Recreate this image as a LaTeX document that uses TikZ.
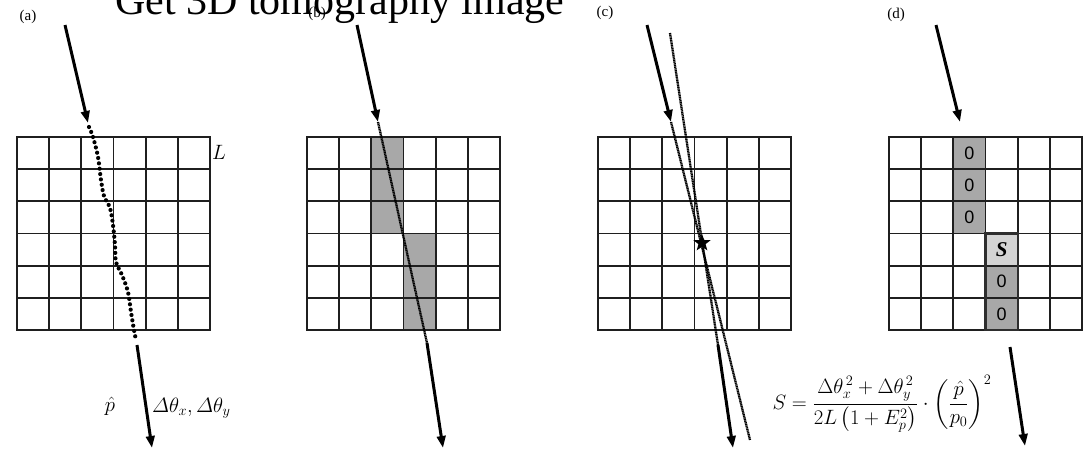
\documentclass[tikz,border=0pt]{standalone}
\usepackage{amsmath}
\usepackage{fontspec}
\setmainfont{Liberation Serif}
\newfontfamily\arialf{Liberation Sans}
\usetikzlibrary{arrows.meta,shapes.geometric}
\newcommand\drawpanelgrid[1]{%
  \foreach \i in {0,...,6}{%
    \draw[gridln] ({#1+\i*32.1667},137) -- ({#1+\i*32.1667},330);
    \draw[gridln] ({#1-0.9},{137+\i*32.1667}) -- ({#1+193.9},{137+\i*32.1667});
  }}
\begin{document}
\begin{tikzpicture}[x=1pt,y=-1pt,
  gridln/.style={line width=1.8pt,draw=black!88},
  bigarrow/.style={line width=3pt,-{Triangle[length=12pt,width=8.5pt]}},
  bigdots/.style={line width=4.2pt,line cap=round,dash pattern=on 0pt off 5.4pt},
  finedots/.style={line width=2.3pt,draw=black,dash pattern=on 1.2pt off 0.5pt},
  panellabel/.style={font=\fontsize{15}{15}\selectfont,inner sep=0pt},
  mathlabel/.style={font=\fontsize{21}{23}\selectfont,inner sep=0pt},
  graycell/.style={fill=black!34,draw=none,minimum size=32.17pt,inner sep=0pt},
  lightcell/.style={fill=black!17,draw=none,minimum size=32.17pt,inner sep=0pt},
  zerotext/.style={font=\arialf\fontsize{18}{18}\selectfont},
]
\useasboundingbox (0,0) rectangle (1092,451);
\fill[white] (0,0) rectangle (1092,451);

% title
\node[anchor=base west,inner sep=0pt,font=\fontsize{42}{42}\selectfont] (title) at (115,14) {Get 3D tomography image};

% panel labels
\node[panellabel] (la) at (28,17) {(a)};
\node[panellabel] (lb) at (317,14) {(b)};
\node[panellabel] (lc) at (605,13) {(c)};
\node[panellabel] (ld) at (896,15) {(d)};

% ---------- shaded cells (b)
\foreach \r in {0,1,2}{\node[graycell] (b2\r) at ({307+2.5*32.1667},{137+(\r+0.5)*32.1667}) {};}
\foreach \r in {3,4,5}{\node[graycell] (b3\r) at ({307+3.5*32.1667},{137+(\r+0.5)*32.1667}) {};}

% ---------- shaded cells (d)
\foreach \r in {0,1,2}{\node[graycell,zerotext] (d2\r) at ({889+2.5*32.1667},{137+(\r+0.5)*32.1667}) {0};}
\node[lightcell,font=\fontsize{21}{21}\selectfont\bfseries\itshape] (d33) at ({889+3.5*32.1667},{137+3.5*32.1667}) {S};
\foreach \r in {4,5}{\node[graycell,zerotext] (d3\r) at ({889+3.5*32.1667},{137+(\r+0.5)*32.1667}) {0};}

% ---------- grids
\drawpanelgrid{17}
\drawpanelgrid{307}
\drawpanelgrid{598}
\drawpanelgrid{889}
\draw[line width=2.3pt,draw=black!82] ({889+3*32.1667},{137+3*32.1667}) rectangle ({889+4*32.1667},330);

% ---------- panel (a)
\coordinate (aS) at (65,25);
\coordinate (aT) at (88,123);
\coordinate (aO) at (137,345);
\coordinate (aE) at (152,448);
\draw[bigarrow] (aS) -- (aT);
\draw[bigdots] plot[smooth,tension=0.55] coordinates {(89,127) (93,137) (98,157) (101,180) (104,196) (110,208) (113,225) (115,245) (116,262) (122,275) (128,292) (131,312) (134,330) (136,340)};
\draw[bigarrow] (aO) -- (aE);
\node[mathlabel,anchor=west] (Llab) at (212,152) {$L$};
\node[mathlabel] (phat) at (110,406) {$\hat{p}$};
\node[mathlabel,anchor=west] (dth) at (152,408) {$\varDelta\theta_x,\varDelta\theta_y$};

% ---------- panel (b)
\coordinate (bS) at (357,25);
\coordinate (bT) at (378,122);
\coordinate (bO) at (427,343);
\coordinate (bE) at (443,448);
\draw[bigarrow] (bS) -- (bT);
\draw[finedots] (bT) -- (bO);
\draw[bigarrow] (bO) -- (bE);

% ---------- panel (c)
\coordinate (cS) at (647,25);
\coordinate (cT) at (671,122);
\coordinate (cA) at (750,440);
\coordinate (cB) at (670,33);
\coordinate (cO) at (718,345);
\coordinate (cE) at (733,448);
\draw[bigarrow] (cS) -- (cT);
\draw[finedots] (cT) -- (cA);
\draw[finedots] (cB) -- (cO);
\draw[bigarrow] (cO) -- (cE);
\node[star,star points=5,star point ratio=2.4,fill=black,minimum size=18pt,inner sep=0pt] (star) at (702,243) {};

% ---------- panel (d)
\coordinate (dS) at (936,25);
\coordinate (dT) at (960,122);
\coordinate (dO) at (1010,347);
\coordinate (dE) at (1025,446);
\draw[bigarrow] (dS) -- (dT);
\draw[bigarrow] (dO) -- (dE);

% formula
\node[inner sep=0pt,font=\fontsize{22}{26}\selectfont] (formula) at (882,404)
  {$\displaystyle S=\frac{\Delta\theta_x^{\,2}+\Delta\theta_y^{\,2}}{2L\left(1+E_p^2\right)}\cdot\left(\frac{\hat{p}}{p_0}\right)^{2}$};
\end{tikzpicture}
\end{document}
